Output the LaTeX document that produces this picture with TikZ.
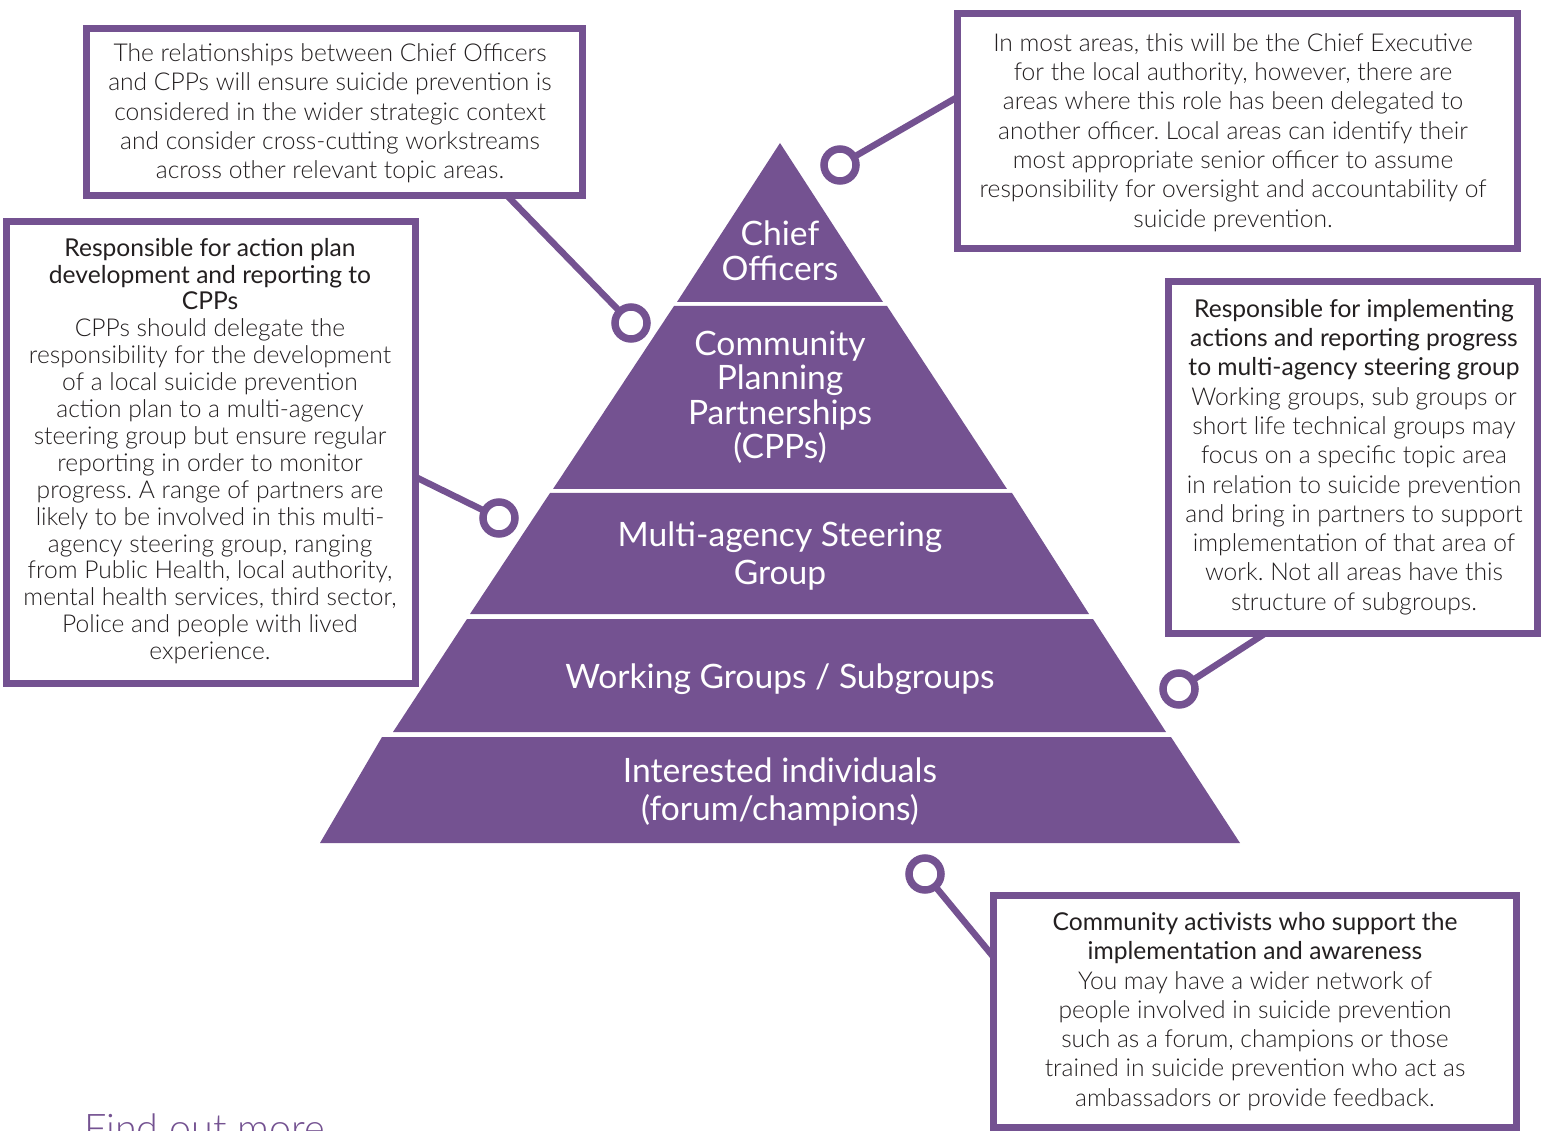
\documentclass[tikz,border=0pt]{standalone}
\usepackage{fontspec}
\IfFontExistsTF{Lato Light}
  {\setmainfont{Lato Light}[BoldFont=Lato]}
  {\setmainfont{Lato}}
\newfontfamily\medfont{Lato}
\definecolor{plum}{RGB}{116,82,145}
\definecolor{ink}{RGB}{35,31,32}
\frenchspacing
\begin{document}
\begin{tikzpicture}[x=1pt,y=-1pt,
  band/.style={fill=plum},
  bandtext/.style={text=white, align=center, font=\medfont\fontsize{33.6}{35}\selectfont},
  infobox/.style={draw=plum, line width=7pt, fill=white, rectangle, inner sep=0pt},
  boxtext/.style={text=ink, align=center, font=\fontsize{24.6}{29.3}\selectfont},
  dot/.style={circle, draw=plum, line width=7.5pt, fill=white, minimum size=32pt, inner sep=0pt},
  link/.style={draw=plum, line width=6.5pt}]
\useasboundingbox (0,0) rectangle (1543,1131);

% pyramid bands, top to bottom
\fill[band] (780,143) -- (883,302) -- (677,302) -- cycle;
\fill[band] (674,306) -- (887,306) -- (1007,489) -- (553,489) -- cycle;
\fill[band] (550,493) -- (1012,493) -- (1089,614) -- (470,614) -- cycle;
\fill[band] (467,619) -- (1093,619) -- (1166,732) -- (393,732) -- cycle;
\fill[band] (382,737) -- (1171,737) -- (1240,843) -- (320,843) -- cycle;

\node[bandtext] (chief) at (780,250.5) {Chief\\Officers};
\node[bandtext, font=\medfont\fontsize{33.6}{34.5}\selectfont] (cpp) at (780,397)
  {Community\\Planning\\Partnerships\\(CPPs)};
\node[bandtext, font=\medfont\fontsize{33.6}{38}\selectfont] (steer) at (780,556.5)
  {Multi-agency Steering\\Group};
\node[bandtext] (work) at (780,679.5) {Working Groups / Subgroups};
\node[bandtext, font=\medfont\fontsize{33.6}{38}\selectfont] (indiv) at (780,792.5)
  {Interested individuals\\(forum/champions)};

% connector end points on the box frames
\coordinate (e1) at (507,195.5);
\coordinate (e2) at (957.5,97);
\coordinate (e3) at (415.5,477);
\coordinate (e4) at (1265,633.5);
\coordinate (e5) at (993.5,957);

% ring markers
\coordinate (k1c) at (631,323);
\coordinate (k2c) at (840,165);
\coordinate (k3c) at (499,518);
\coordinate (k4c) at (1179,689);
\coordinate (k5c) at (925,874);

\draw[link] (e1) -- (k1c);
\draw[link] (e2) -- (k2c);
\draw[link] (e3) -- (k3c);
\draw[link] (e4) -- (k4c);
\draw[link] (e5) -- (k5c);

\node[dot] (k1) at (k1c) {};
\node[dot] (k2) at (k2c) {};
\node[dot] (k3) at (k3c) {};
\node[dot] (k4) at (k4c) {};
\node[dot] (k5) at (k5c) {};

% framed notes
\node[infobox, minimum width=496pt, minimum height=167pt] (b1) at (334.5,112) {};
\node[infobox, minimum width=560pt, minimum height=235pt] (b2) at (1237.5,131) {};
\node[infobox, minimum width=409pt, minimum height=462pt] (b3) at (211,452.5) {};
\node[infobox, minimum width=369pt, minimum height=352pt] (b4) at (1353,457.5) {};
\node[infobox, minimum width=523pt, minimum height=232pt] (b5) at (1255,1011.5) {};

\node[boxtext] (t1) at (330,113.5) {The relationships between Chief Officers\\
and CPPs will ensure suicide prevention is\\
considered in the wider strategic context\\
and consider cross-cutting workstreams\\
across other relevant topic areas.};

\node[boxtext] (t2) at (1233,132.5) {In most areas, this will be the Chief Executive\\
for the local authority, however, there are\\
areas where this role has been delegated to\\
another officer. Local areas can identify their\\
most appropriate senior officer to assume\\
responsibility for oversight and accountability of\\
suicide prevention.};

\node[boxtext, font=\fontsize{24.6}{26.9}\selectfont] (t3) at (210,451) {\medfont Responsible for action plan\\
\medfont development and reporting to\\
\medfont CPPs\\
CPPs should delegate the\\
responsibility for the development\\
of a local suicide prevention\\
action plan to a multi-agency\\
steering group but ensure regular\\
reporting in order to monitor\\
progress. A range of partners are\\
likely to be involved in this multi-\\
agency steering group, ranging\\
from Public Health, local authority,\\
mental health services, third sector,\\
Police and people with lived\\
experience.};

\node[boxtext] (t4) at (1354,457) {\medfont Responsible for implementing\\
\medfont actions and reporting progress\\
\medfont to multi-agency steering group\\
Working groups, sub groups or\\
short life technical groups may\\
focus on a specific topic area\\
in relation to suicide prevention\\
and bring in partners to support\\
implementation of that area of\\
work. Not all areas have this\\
structure of subgroups.};

\node[boxtext] (t5) at (1255,1011.5) {\medfont Community activists who support the\\
\medfont implementation and awareness\\
You may have a wider network of\\
people involved in suicide prevention\\
such as a forum, champions or those\\
trained in suicide prevention who act as\\
ambassadors or provide feedback.};

\node[anchor=base west, inner sep=0pt, text=plum, font=\fontsize{39.5}{44}\selectfont] (more) at (84,1142) {Find out more};
\end{tikzpicture}
\end{document}
